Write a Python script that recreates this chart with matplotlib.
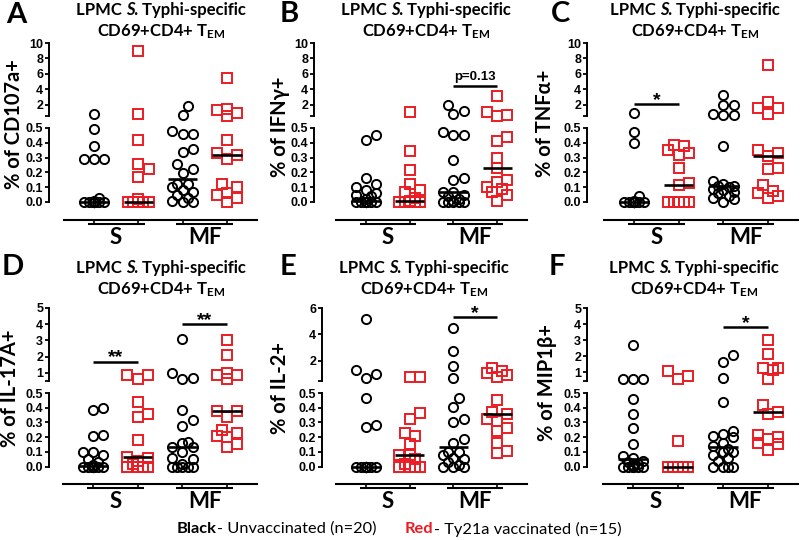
import numpy as np
import matplotlib
matplotlib.use("Agg")
import matplotlib.pyplot as plt
from matplotlib.transforms import blended_transform_factory

plt.rcParams.update({
    'font.family': ['Lato', 'DejaVu Sans'],
    'mathtext.fontset': 'custom',
    'mathtext.rm': 'Lato:bold',
    'mathtext.bf': 'Lato:bold',
    'mathtext.it': 'Lato:italic:bold',
})

# ---------------- data (% of cells), columns: S-unvac, S-vac, MF-unvac, MF-vac -------------
A_S_unv = [0.90, 0.49, 0.38, 0.29, 0.29, 0.29, 0.03, 0.01, 0, 0, 0, 0, 0, 0, 0, 0, 0, 0, 0, 0]
A_S_vac = [9.0, 0.90, 0.42, 0.26, 0.22, 0.17, 0.02, 0, 0, 0, 0, 0, 0, 0, 0]
A_MF_unv = [1.85, 0.70, 0.48, 0.46, 0.46, 0.36, 0.34, 0.26, 0.225, 0.195, 0.12, 0.12, 0.10,
            0.08, 0.07, 0.05, 0.03, 0.01, 0, 0]
A_MF_vac = [5.5, 1.45, 1.30, 0.98, 0.62, 0.42, 0.33, 0.315, 0.29, 0.12, 0.10, 0.06, 0.05, 0.03, 0]

B_S_unv = [0.455, 0.42, 0.164, 0.12, 0.10, 0.08, 0.06, 0.05, 0.04, 0.02, 0, 0, 0, 0, 0, 0, 0, 0, 0, 0]
B_S_vac = [1.10, 0.343, 0.213, 0.12, 0.08, 0.07, 0.03, 0.01, 0, 0, 0, 0, 0, 0, 0]
B_MF_unv = [2.0, 1.27, 0.85, 0.47, 0.45, 0.45, 0.285, 0.164, 0.15, 0.07, 0.065, 0.05, 0.04,
            0.02, 0.01, 0, 0, 0, 0, 0]
B_MF_vac = [3.2, 1.15, 0.75, 0.60, 0.44, 0.415, 0.30, 0.23, 0.15, 0.135, 0.10, 0.09, 0.067, 0.05, 0.01]

C_S_unv = [0.92, 0.47, 0.40, 0.04, 0.01, 0, 0, 0, 0, 0, 0, 0, 0, 0, 0, 0, 0, 0, 0, 0]
C_S_vac = [0.387, 0.376, 0.35, 0.33, 0.32, 0.23, 0.13, 0.117, 0, 0, 0, 0, 0, 0, 0]
C_MF_unv = [3.3, 2.05, 2.0, 0.80, 0.75, 0.65, 0.38, 0.14, 0.12, 0.11, 0.11, 0.10, 0.09, 0.08,
            0.07, 0.06, 0.04, 0.03, 0.02, 0]
C_MF_vac = [7.1, 2.4, 1.65, 1.55, 0.88, 0.35, 0.33, 0.31, 0.23, 0.22, 0.117, 0.077, 0.06, 0.04, 0.03]

D_S_unv = [0.395, 0.386, 0.216, 0.205, 0.10, 0.10, 0.08, 0.05, 0.03, 0.01, 0, 0, 0, 0, 0, 0, 0, 0, 0, 0]
D_S_vac = [0.85, 0.85, 0.60, 0.436, 0.357, 0.334, 0.18, 0.066, 0.06, 0.04, 0.02, 0, 0, 0, 0]
D_MF_unv = [3.1, 1.0, 0.70, 0.65, 0.386, 0.316, 0.277, 0.164, 0.16, 0.13, 0.13, 0.10, 0.06, 0.05,
            0.02, 0, 0, 0, 0, 0]
D_MF_vac = [3.0, 2.13, 1.0, 0.90, 0.85, 0.60, 0.38, 0.375, 0.334, 0.248, 0.23, 0.205, 0.20, 0.15, 0.13]

E_S_unv = [5.15, 1.30, 1.05, 0.75, 0.465, 0.283, 0.27, 0, 0, 0, 0, 0, 0, 0, 0, 0, 0, 0, 0, 0]
E_S_vac = [0.78, 0.78, 0.363, 0.323, 0.23, 0.207, 0.15, 0.08, 0.08, 0.05, 0.02, 0, 0, 0, 0]
E_MF_unv = [4.5, 2.75, 1.65, 0.70, 0.468, 0.403, 0.323, 0.304, 0.184, 0.161, 0.10, 0.10, 0.08,
            0.06, 0.05, 0.03, 0.01, 0, 0, 0]
E_MF_vac = [1.5, 1.28, 1.08, 0.95, 0.80, 0.45, 0.369, 0.36, 0.32, 0.31, 0.265, 0.24, 0.161, 0.108, 0.092]

F_S_unv = [2.69, 0.60, 0.60, 0.60, 0.46, 0.357, 0.26, 0.15, 0.07, 0.06, 0.04, 0.03, 0.02, 0.01,
           0, 0, 0, 0, 0, 0]
F_S_vac = [1.08, 0.75, 0.60, 0.173, 0, 0, 0, 0, 0, 0, 0, 0, 0, 0, 0]
F_MF_unv = [2.07, 1.66, 0.66, 0.44, 0.242, 0.22, 0.21, 0.20, 0.16, 0.14, 0.12, 0.10, 0.10, 0.08,
            0.06, 0.04, 0, 0, 0, 0]
F_MF_vac = [3.0, 2.11, 1.29, 1.25, 1.15, 0.60, 0.419, 0.37, 0.36, 0.212, 0.20, 0.19, 0.161, 0.15, 0.115]

group_labels = ['S', 'MF']
lower_ticks = [0.0, 0.1, 0.2, 0.3, 0.4, 0.5]
upper_ticks_top = [2, 4, 6, 8, 10]
upper_ticks_D = [1, 2, 3, 4, 5]
upper_ticks_E = [2, 4, 6]
upper_ticks_F = [1, 2, 3, 4, 5]
ylabels = ['% of CD107a+', '% of IFNγ+', '% of TNFα+', '% of IL-17A+', '% of IL-2+', '% of MIP1β+']
letters = ['A', 'B', 'C', 'D', 'E', 'F']
# significance: (text, column i, column j, height)
sig_A = []
sig_B = [('p=0.13', 2, 3, 4.45)]
sig_C = [('*', 0, 1, 2.13)]
sig_D = [('**', 0, 1, 1.69), ('**', 2, 3, 4.0)]
sig_E = [('*', 2, 3, 5.3)]
sig_F = [('*', 2, 3, 3.8)]

panels = [
    dict(data=[A_S_unv, A_S_vac, A_MF_unv, A_MF_vac], up=upper_ticks_top, sig=sig_A),
    dict(data=[B_S_unv, B_S_vac, B_MF_unv, B_MF_vac], up=upper_ticks_top, sig=sig_B),
    dict(data=[C_S_unv, C_S_vac, C_MF_unv, C_MF_vac], up=upper_ticks_top, sig=sig_C),
    dict(data=[D_S_unv, D_S_vac, D_MF_unv, D_MF_vac], up=upper_ticks_D, sig=sig_D),
    dict(data=[E_S_unv, E_S_vac, E_MF_unv, E_MF_vac], up=upper_ticks_E, sig=sig_E),
    dict(data=[F_S_unv, F_S_vac, F_MF_unv, F_MF_vac], up=upper_ticks_F, sig=sig_F),
]

# ---------------- layout (pixels) ----------------
W, H = 800, 540
layout = [
    dict(L=49, c0=94, s=44.3, ylo=0.58, row=0, title_x=161, letter=(16, 15), ylab=(14, 124)),
    dict(L=314, c0=366, s=43.7, ylo=0.58, row=0, title_x=426, letter=(289, 14), ylab=(280, 127)),
    dict(L=587, c0=634, s=44.7, ylo=0.58, row=0, title_x=695, letter=(561, 14), ylab=(545, 123)),
    dict(L=49, c0=93, s=44.7, ylo=0.50, row=1, title_x=161, letter=(13, 267), ylab=(10, 388)),
    dict(L=322, c0=366, s=43.7, ylo=0.49, row=1, title_x=424, letter=(288, 267), ylab=(280, 388)),
    dict(L=587, c0=633, s=45.0, ylo=0.46, row=1, title_x=694, letter=(557, 267), ylab=(547, 383)),
]
rows = [
    dict(up_top=43, up_bot=116, lo_top=128, lo_zero=202, axis=220, t1=10, t2=32, grp=238),
    dict(up_top=308, up_bot=381, lo_top=393, lo_zero=466.5, axis=484, t1=268, t2=290, grp=501),
]

BLACK = '#000000'
RED = '#ec1c24'
colors = [BLACK, RED, BLACK, RED]
markers = ['o', 's', 'o', 's']
MS = 6.6
MEW = 1.4
TICK_FAMILY = ['Liberation Sans', 'DejaVu Sans']
TICK_FS = 9
TITLE_FS = 12
YLAB_FS = 14.5
GROUP_FS = 16
LEGEND_FS = 11.8

fig = plt.figure(figsize=(W / 100, H / 100), dpi=100)
renderer = fig.canvas.get_renderer()
all_axes = []


def fx(x):
    return x / W


def fy(y):
    return 1 - y / H


def swarm(ypix, d, wmax):
    order = np.argsort(ypix, kind='stable')
    step = d / 2.0
    cands = [0.0]
    k = 1
    while k * step <= wmax + 1e-9:
        cands += [k * step, -k * step]
        k += 1
    placed = []
    offs = np.zeros(len(ypix))
    for i in order:
        y = ypix[i]
        chosen, bestc, bestd = None, 0.0, -1
        for c in cands:
            mind = min([np.hypot(c - px, y - py) for px, py in placed], default=np.inf)
            if mind >= 0.95 * d:
                chosen = c
                break
            if mind > bestd:
                bestd, bestc = mind, c
        if chosen is None:
            chosen = bestc
        offs[i] = chosen
        placed.append((chosen, y))
    return offs


def style_axis(ax):
    for sp in ['top', 'right']:
        ax.spines[sp].set_visible(False)
    ax.spines['left'].set_linewidth(1.4)
    ax.tick_params(axis='y', which='both', direction='out', length=3.0, width=1.3, pad=1.2)


def run_text(x, y, parts, fs, center=False):
    """Draw consecutive text pieces (txt, color, weight, style) starting at x (or centred on x)."""
    widths = []
    for txt, color, weight, style in parts:
        t = fig.text(0, 0, txt, fontsize=fs, fontweight=weight, fontstyle=style)
        widths.append(t.get_window_extent(renderer=renderer).width)
        t.remove()
    if center:
        x = x - sum(widths) / 2.0
    for (txt, color, weight, style), w in zip(parts, widths):
        fig.text(fx(x), fy(y), txt, ha='left', va='center', fontsize=fs, color=color,
                 fontweight=weight, fontstyle=style)
        x += w


for pi, (p, lay) in enumerate(zip(panels, layout)):
    r = rows[lay['row']]
    L, c0, s = lay['L'], lay['c0'], lay['s']
    R = c0 + 3 * s + 30
    xlim = ((L - c0) / s, (R - c0) / s)
    up_max = p['up'][-1]

    ax_up = fig.add_axes([fx(L), fy(r['up_bot']), (R - L) / W, (r['up_bot'] - r['up_top']) / H])
    ax_lo = fig.add_axes([fx(L), fy(r['axis']), (R - L) / W, (r['axis'] - r['lo_top']) / H])
    all_axes += [ax_up, ax_lo]
    for ax in (ax_up, ax_lo):
        ax.set_xlim(*xlim)
        ax.patch.set_alpha(0)

    ax_up.set_ylim(lay['ylo'], up_max)
    ax_up.set_yticks(p['up'])
    ax_up.set_yticklabels([str(t) for t in p['up']])
    ax_up.set_yticks([lay['ylo']], minor=True)
    ax_up.spines['bottom'].set_visible(False)
    ax_up.set_xticks([])

    lo_scale = (r['lo_zero'] - r['lo_top']) / 0.5
    ax_lo.set_ylim(-(r['axis'] - r['lo_zero']) / lo_scale, 0.5)
    ax_lo.set_yticks(lower_ticks)
    ax_lo.set_yticklabels(['%.1f' % t for t in lower_ticks])
    ax_lo.spines['left'].set_bounds(0, 0.5)
    ax_lo.spines['bottom'].set_bounds(-30.0 / s, xlim[1])
    ax_lo.spines['bottom'].set_linewidth(1.5)
    ax_lo.set_xticks([0, 1, 2, 3])
    ax_lo.set_xticklabels([])
    ax_lo.tick_params(axis='x', direction='out', length=3.0, width=1.2)
    style_axis(ax_up)
    style_axis(ax_lo)

    # group underlines + labels
    blend = blended_transform_factory(ax_lo.transData, fig.transFigure)
    for g, (i0, i1) in enumerate([(0, 1), (2, 3)]):
        ax_lo.plot([i0 - 0.14, i1 + 0.14], [fy(r['axis'] + 4.2)] * 2, color='k', lw=1.5,
                   transform=blend, clip_on=False, solid_capstyle='butt')
        ax_lo.text((i0 + i1) / 2.0, fy(r['grp']), group_labels[g], transform=blend, ha='center',
                   va='center', fontsize=GROUP_FS, fontweight='bold', color='k')

    # points (beeswarm computed in pixel space)
    d = MS * 100 / 72.0 + 1.2
    px_per_x = ax_lo.transData.transform((1, 0))[0] - ax_lo.transData.transform((0, 0))[0]
    for ci, vals in enumerate(p['data']):
        vals = np.asarray(vals, dtype=float)
        ypix = np.array([(ax_up if v > 0.5 else ax_lo).transData.transform((0, v))[1] for v in vals])
        offs = swarm(ypix, d, 11.0) / px_per_x
        for v, o in zip(vals, offs):
            ax = ax_up if v > 0.5 else ax_lo
            ax.plot(ci + o, v, marker=markers[ci], ms=MS, mew=MEW, mfc='none', mec=colors[ci],
                    linestyle='none', clip_on=False, zorder=3)
        med = float(np.median(vals))
        axm = ax_up if med > 0.5 else ax_lo
        axm.plot([ci - 0.33, ci + 0.33], [med, med], color='k', lw=1.9, clip_on=False, zorder=4,
                 solid_capstyle='butt')

    # significance
    for txt, i0, i1, yv in p['sig']:
        ax_up.plot([i0, i1], [yv, yv], color='k', lw=1.8, clip_on=False, solid_capstyle='butt')
        if txt.startswith('p'):
            ax_up.annotate(txt, ((i0 + i1) / 2, yv), xytext=(0, 2.5), textcoords='offset points',
                           ha='center', va='bottom', fontsize=9.5, fontweight='bold',
                           family=TICK_FAMILY, annotation_clip=False)
        else:
            ax_up.annotate(txt, ((i0 + i1) / 2, yv), xytext=(0, -3.5), textcoords='offset points',
                           ha='center', va='bottom', fontsize=14, fontweight='bold',
                           family=TICK_FAMILY, annotation_clip=False)

    # titles, letters, y labels
    run_text(lay['title_x'], r['t1'], [('LPMC ', 'k', 'bold', 'normal'), ('S.', 'k', 'bold', 'italic'),
                                       (' Typhi-specific', 'k', 'bold', 'normal')], TITLE_FS, center=True)
    fig.text(fx(lay['title_x']), fy(r['t2']), r'CD69+CD4+ T$_{\mathrm{EM}}$', ha='center',
             va='center', fontsize=TITLE_FS, fontweight='bold')
    fig.text(fx(lay['letter'][0]), fy(lay['letter'][1]), letters[pi], ha='center',
             va='center', fontsize=21, fontweight='bold')
    fig.text(fx(lay['ylab'][0]), fy(lay['ylab'][1]), ylabels[pi], ha='center',
             va='center', rotation=90, fontsize=YLAB_FS, fontweight='bold')

# legend text
run_text(177, 529, [('Black', BLACK, 'bold', 'normal'), ('- Unvaccinated (n=20)', BLACK, 'normal', 'normal')],
         LEGEND_FS)
run_text(405, 529, [('Red', RED, 'bold', 'normal'), ('- Ty21a vaccinated (n=15)', BLACK, 'normal', 'normal')],
         LEGEND_FS)

# make sure every tick label is bold Arial-like
fig.canvas.draw()
for ax in all_axes:
    for lab in ax.get_yticklabels():
        lab.set_family(TICK_FAMILY)
        lab.set_fontweight('bold')
        lab.set_fontsize(TICK_FS)

fig.savefig('out.png', dpi=100)
